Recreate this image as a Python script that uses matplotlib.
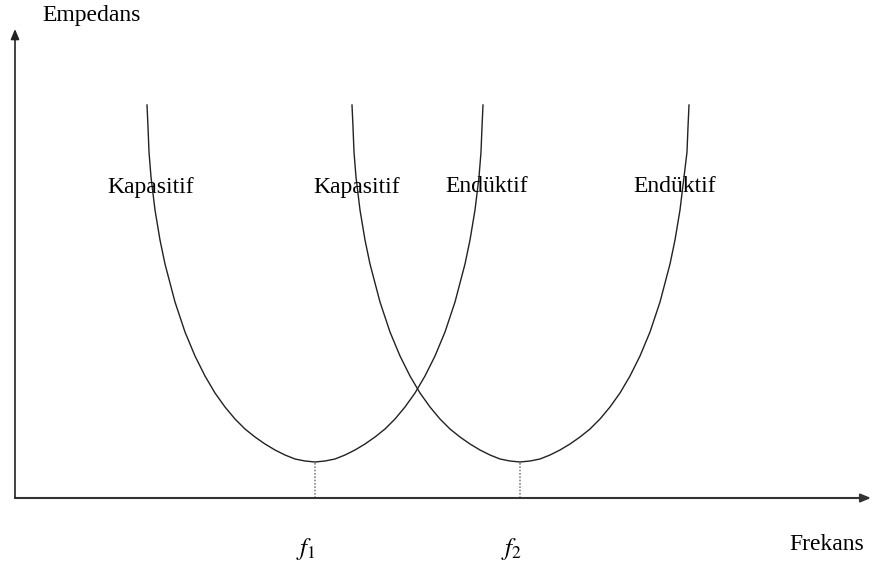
import matplotlib
matplotlib.use("Agg")
from matplotlib import pyplot as plt

plt.rcParams['font.family'] = ['Liberation Serif', 'DejaVu Serif']
plt.rcParams['mathtext.fontset'] = 'stix'

# curve points (x: frequency, y: impedance, arbitrary units)
curve1_x = [132, 133, 134, 136, 140, 145, 150, 160, 170, 180, 190, 200, 210,
            220, 230, 240, 250, 260, 270, 280, 290, 300,
            310, 320, 330, 340, 350, 360, 370, 380, 390, 400, 410, 420,
            430, 440, 450, 455, 460, 464, 466, 467, 468]
curve1_y = [393, 371, 346, 321, 288, 258, 234, 196, 166, 142, 122, 105, 91,
            79, 69, 61, 54, 48, 43, 39, 37, 36,
            37, 39, 43, 48, 54, 61, 69, 79, 91, 105, 122, 142,
            166, 196, 234, 258, 288, 321, 346, 371, 393]
curve2_x = [337, 338, 339, 341, 345, 350, 355, 365, 375, 385, 395, 405, 415,
            425, 435, 445, 455, 465, 475, 485, 495, 505,
            515, 525, 535, 545, 555, 565, 575, 585, 595, 605, 615, 625,
            635, 645, 655, 660, 665, 669, 672, 673, 674]
curve2_y = [393, 371, 346, 321, 288, 258, 234, 196, 166, 142, 122, 105, 91,
            79, 69, 61, 54, 48, 43, 39, 37, 36,
            37, 39, 43, 48, 54, 61, 69, 79, 91, 105, 122, 142,
            166, 196, 234, 258, 288, 321, 346, 371, 393]
resonance_x = [300, 505]
resonance_labels = [r'$f_1$', r'$f_2$']
region_labels = ['Kapasitif', 'Kapasitif', 'Endüktif', 'Endüktif']
region_x = [136, 342, 472, 660]

fig = plt.figure(figsize=(8.72, 5.70), dpi=100)
ax = fig.add_axes([0, 0, 1, 1])
ax.set_xlim(-15, 857)
ax.set_ylim(-72, 498)
ax.axis('off')

ax.plot(curve1_x, curve1_y, color='#222222', lw=1.0)
ax.plot(curve2_x, curve2_y, color='#222222', lw=1.0)

for fx, lab in zip(resonance_x, resonance_labels):
    ax.plot([fx, fx], [0, 36], color='#888888', lw=1.2, ls=(0, (1, 1)))
    ax.text(fx - 9, -51, lab, fontsize=18, ha='center', va='center')

# axes with arrows
ax.annotate('', xy=(856, 0), xytext=(0, 0),
            arrowprops=dict(arrowstyle='-|>,head_length=0.6,head_width=0.25',
                            color='#333333', lw=1.5, shrinkA=0, shrinkB=0))
ax.annotate('', xy=(0, 469), xytext=(0, 0),
            arrowprops=dict(arrowstyle='-|>,head_length=0.6,head_width=0.25',
                            color='#222222', lw=1.2, shrinkA=0, shrinkB=0))

ax.text(77, 482, 'Empedans', fontsize=17, ha='center', va='center')
ax.text(812, -47, 'Frekans', fontsize=17, ha='center', va='center')
for lab, lx in zip(region_labels, region_x):
    ax.text(lx, 311, lab, fontsize=17, ha='center', va='center')

plt.savefig('out.png', dpi=100)
